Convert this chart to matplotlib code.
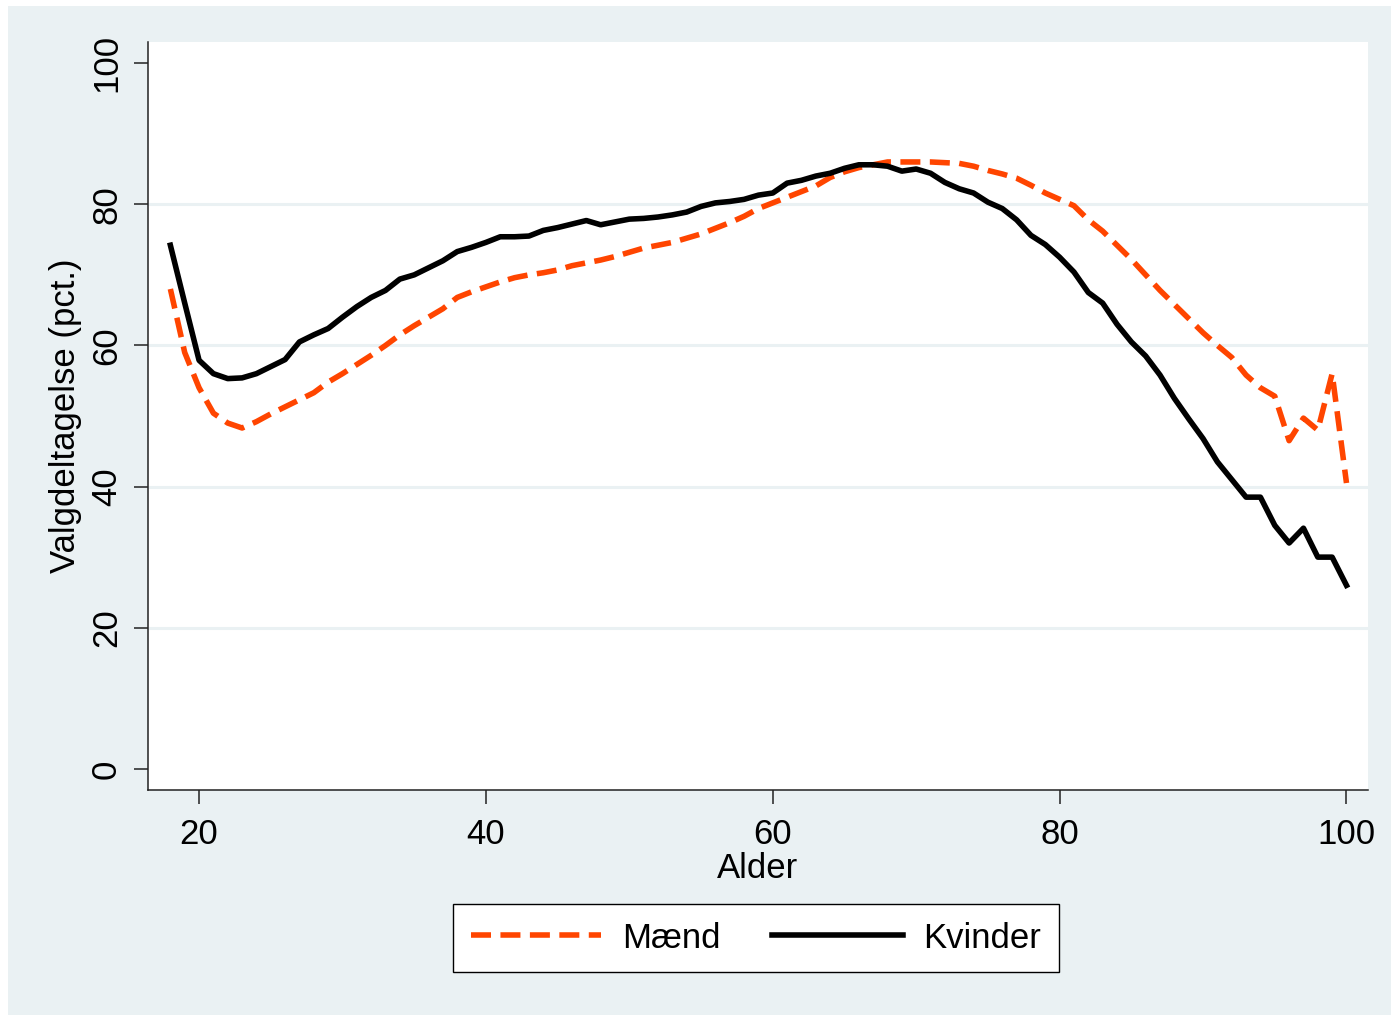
import numpy as np
import matplotlib
matplotlib.use("Agg")
from matplotlib import pyplot as plt
from matplotlib.patches import Rectangle

plt.rcParams['font.family'] = ['Liberation Sans', 'DejaVu Sans']

# alder 18-100
alder = list(range(18, 101))

maend = [68, 59, 54, 50.4, 49, 48.3, 49.2, 50.3, 51.3, 52.3,
         53.3, 54.8, 56, 57.3, 58.6, 60, 61.5, 62.8, 64, 65.2,
         66.8, 67.6, 68.3, 69, 69.6, 70, 70.3, 70.7, 71.3, 71.7,
         72.1, 72.6, 73.2, 73.8, 74.2, 74.6, 75.2, 75.8, 76.6, 77.4,
         78.3, 79.4, 80.2, 81, 81.8, 82.6, 83.8, 84.6, 85.2, 85.6,
         86, 86, 86, 86, 85.9, 85.8, 85.4, 84.8, 84.3, 83.7,
         82.7, 81.6, 80.7, 79.8, 77.8, 76.2, 74.2, 72.2, 70, 67.8,
         65.8, 63.8, 61.8, 60, 58.3, 55.8, 54, 52.8, 46.5, 49.7,
         48, 56, 40.5]

kvinder = [74.2, 66, 57.9, 56, 55.3, 55.4, 56, 57, 58, 60.5,
           61.5, 62.4, 64, 65.5, 66.8, 67.8, 69.4, 70, 71, 72,
           73.3, 73.9, 74.6, 75.4, 75.4, 75.5, 76.3, 76.7, 77.2, 77.7,
           77.1, 77.5, 77.9, 78, 78.2, 78.5, 78.9, 79.7, 80.2, 80.4,
           80.7, 81.3, 81.6, 83, 83.4, 84, 84.4, 85.1, 85.6, 85.6,
           85.4, 84.7, 85, 84.4, 83.1, 82.2, 81.6, 80.3, 79.4, 77.8,
           75.6, 74.3, 72.5, 70.4, 67.5, 66, 63, 60.5, 58.5, 55.8,
           52.5, 49.6, 46.8, 43.5, 41, 38.5, 38.5, 34.5, 32, 34.1,
           30, 30, 26]

xticks = [20, 40, 60, 80, 100]
yticks = [0, 20, 40, 60, 80, 100]

bg = '#EAF1F3'
fs = 25

fig = plt.figure(figsize=(13.91, 10.15), dpi=100, facecolor='white')
# baggrund (lille hvid kant til venstre og foroven)
fig.patches.append(Rectangle((8/1391, 0), 1, 1 - 6/1015, transform=fig.transFigure,
                             facecolor=bg, edgecolor='none', zorder=-10))

ax = fig.add_axes([148/1391, 1 - 790/1015, (1368-148)/1391, (790-42)/1015])
ax.set_facecolor('white')

for y in [20, 40, 60, 80]:
    ax.axhline(y, color=bg, lw=2.2, zorder=0)

ax.plot(alder, maend, color='#FF4500', lw=4.0, dashes=(3.6, 1.7), label='Mænd', zorder=2)
ax.plot(alder, kvinder, color='black', lw=4.0, label='Kvinder', zorder=3)

ax.set_xlim(16.44, 101.5)
ax.set_ylim(-3, 103)
ax.set_xticks(xticks)
ax.set_yticks(yticks)

for s in ['top', 'right']:
    ax.spines[s].set_visible(False)
for s in ['left', 'bottom']:
    ax.spines[s].set_color('#222222')
    ax.spines[s].set_linewidth(1.1)

ax.tick_params(axis='both', length=10, width=1.1, color='#222222', labelsize=fs)
ax.tick_params(axis='x', pad=10)
ax.tick_params(axis='y', pad=8)
plt.setp(ax.get_yticklabels(), rotation=90, va='center')

ax.set_xlabel('Alder', fontsize=fs, labelpad=1)
ax.set_ylabel('Valgdeltagelse (pct.)', fontsize=fs, labelpad=6)

leg = fig.legend(loc='center', bbox_to_anchor=(756/1391, 1 - 938/1015), ncol=2,
                 fontsize=fs, frameon=True, fancybox=False, handlelength=3.75,
                 handletextpad=0.6, columnspacing=1.5, borderpad=0.5,
                 borderaxespad=0, framealpha=1)
leg.get_frame().set_edgecolor('black')
leg.get_frame().set_facecolor('white')
leg.get_frame().set_linewidth(1.0)

plt.savefig('out.png', dpi=100, facecolor=fig.get_facecolor())
